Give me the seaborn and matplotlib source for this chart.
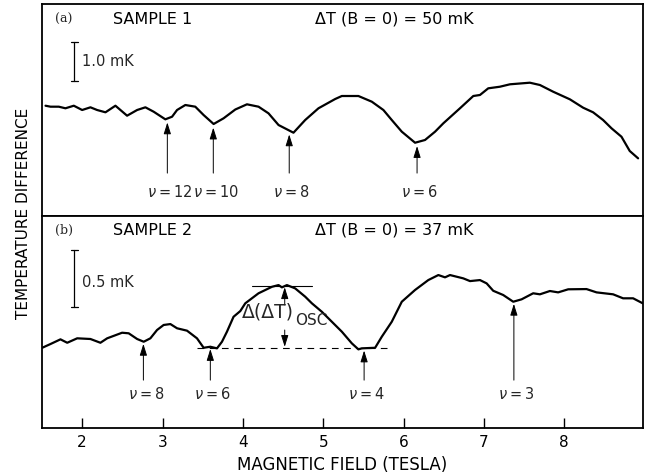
import numpy as np
import pandas as pd
import matplotlib
matplotlib.use("Agg")
import matplotlib.pyplot as plt
import seaborn as sns

# ---------------- data ----------------
# Panel (a): Sample 1, magnetic field (T) and temperature difference (mK, arbitrary offset)
B_a = [1.544, 1.606, 1.709, 1.792, 1.896, 2.000, 2.103, 2.186, 2.290, 2.414,
       2.559, 2.684, 2.787, 2.890, 3.035, 3.119, 3.181, 3.284, 3.408, 3.511,
       3.636, 3.760, 3.906, 4.051, 4.195, 4.319, 4.444, 4.630, 4.776, 4.941,
       5.149, 5.232, 5.438, 5.605, 5.749, 5.853, 5.978, 6.143, 6.267, 6.392,
       6.495, 6.702, 6.868, 6.951, 7.054, 7.199, 7.324, 7.572, 7.697, 7.862,
       8.070, 8.235, 8.359, 8.483, 8.588, 8.712, 8.815, 8.919]
T_a = [2.828, 2.803, 2.803, 2.762, 2.828, 2.718, 2.787, 2.718, 2.659, 2.828,
       2.572, 2.718, 2.787, 2.674, 2.479, 2.546, 2.718, 2.846, 2.803, 2.590,
       2.359, 2.505, 2.731, 2.864, 2.803, 2.633, 2.333, 2.136, 2.462, 2.762,
       3.000, 3.077, 3.077, 2.931, 2.718, 2.462, 2.162, 1.879, 1.949, 2.162,
       2.377, 2.762, 3.077, 3.103, 3.274, 3.315, 3.377, 3.418, 3.359, 3.187,
       2.992, 2.777, 2.659, 2.462, 2.249, 2.033, 1.667, 1.479]

# Panel (b): Sample 2
B_b = [1.503, 1.606, 1.730, 1.814, 1.938, 2.103, 2.227, 2.311, 2.497, 2.579,
       2.684, 2.766, 2.849, 2.932, 3.014, 3.098, 3.181, 3.305, 3.429, 3.512,
       3.595, 3.678, 3.740, 3.802, 3.884, 3.968, 4.030, 4.195, 4.362, 4.444,
       4.486, 4.548, 4.651, 4.776, 4.859, 4.983, 5.108, 5.232, 5.356, 5.438,
       5.480, 5.646, 5.729, 5.853, 5.978, 6.143, 6.308, 6.433, 6.516, 6.578,
       6.743, 6.827, 6.951, 7.034, 7.116, 7.240, 7.365, 7.469, 7.613, 7.697,
       7.821, 7.924, 8.049, 8.277, 8.402, 8.608, 8.732, 8.857, 8.977]
T_b = [0.704, 0.737, 0.778, 0.748, 0.787, 0.781, 0.748, 0.787, 0.836, 0.831,
       0.781, 0.757, 0.787, 0.860, 0.904, 0.912, 0.875, 0.854, 0.787, 0.704,
       0.713, 0.699, 0.757, 0.845, 0.976, 1.026, 1.094, 1.182, 1.239, 1.254,
       1.234, 1.254, 1.225, 1.152, 1.094, 1.020, 0.932, 0.845, 0.743, 0.690,
       0.699, 0.704, 0.801, 0.932, 1.108, 1.211, 1.298, 1.342, 1.322, 1.342,
       1.313, 1.289, 1.298, 1.269, 1.204, 1.167, 1.108, 1.129, 1.182, 1.173,
       1.202, 1.190, 1.217, 1.219, 1.190, 1.173, 1.138, 1.138, 1.094]

# Landau level filling factors and the fields where the minima occur
nu_a = [12, 10, 8, 6]
Bnu_a = [3.060, 3.632, 4.577, 6.168]
nu_b = [8, 6, 4, 3]
Bnu_b = [2.762, 3.595, 5.509, 7.373]

x_ticks = [2, 3, 4, 5, 6, 7, 8]

# ---------------- figure ----------------
sns.set_theme(style="white")
plt.rcParams["font.family"] = ["DejaVu Sans"]
plt.rcParams["mathtext.fontset"] = "dejavusans"

fig = plt.figure(figsize=(6.45, 4.76), dpi=100)
ax1 = fig.add_axes([0.0651, 0.5462, 0.9318, 0.4454])
ax2 = fig.add_axes([0.0651, 0.1008, 0.9318, 0.4454], sharex=ax1)

df_a = pd.DataFrame({"B": B_a, "T": T_a})
df_b = pd.DataFrame({"B": B_b, "T": T_b})
sns.lineplot(data=df_a, x="B", y="T", ax=ax1, color="black", lw=1.6,
             estimator=None, sort=False, legend=False)
sns.lineplot(data=df_b, x="B", y="T", ax=ax2, color="black", lw=1.6,
             estimator=None, sort=False, legend=False)

ax1.set_xlim(1.5, 8.98)
ax1.set_ylim(0, 5.436)
ax2.set_ylim(0, 1.860)

for ax in (ax1, ax2):
    for s in ax.spines.values():
        s.set_visible(True)
        s.set_color("black")
        s.set_linewidth(1.3)
    ax.set_yticks([])
    ax.set_ylabel("")
    ax.set_xlabel("")
    ax.grid(False)

ax1.tick_params(axis="x", bottom=False, labelbottom=False)
ax2.set_xticks(x_ticks)
ax2.set_xticklabels([str(t) for t in x_ticks])
ax2.tick_params(axis="x", direction="in", length=7, width=1, pad=5,
                labelsize=11, colors="black", bottom=True, top=False)

ax2.set_xlabel("MAGNETIC FIELD (TESLA)", fontsize=12, color="black")
ax2.xaxis.set_label_coords(0.5, -0.13)
fig.text(0.037, 0.5525, "TEMPERATURE DIFFERENCE", rotation=90, fontsize=11,
         ha="center", va="center", color="black")

# headers
hdr = dict(fontsize=11.5, color="black", va="center")
ax1.text(0.022, 0.929, "(a)", transform=ax1.transAxes, fontsize=9,
         family="DejaVu Serif", va="center")
ax1.text(0.118, 0.929, "SAMPLE 1", transform=ax1.transAxes, **hdr)
ax1.text(0.454, 0.929, "ΔT (B = 0) = 50 mK", transform=ax1.transAxes, **hdr)
ax2.text(0.022, 0.934, "(b)", transform=ax2.transAxes, fontsize=9,
         family="DejaVu Serif", va="center")
ax2.text(0.118, 0.934, "SAMPLE 2", transform=ax2.transAxes, **hdr)
ax2.text(0.454, 0.934, "ΔT (B = 0) = 37 mK", transform=ax2.transAxes, **hdr)

# scale bars
def scale_bar(ax, x, y0, y1, label, ly):
    ax.plot([x, x], [y0, y1], color="black", lw=0.9)
    ax.plot([x - 0.04, x + 0.04], [y0, y0], color="black", lw=0.9)
    ax.plot([x - 0.04, x + 0.04], [y1, y1], color="black", lw=0.9)
    ax.text(x + 0.1, ly, label, fontsize=10.5, va="center", ha="left")

scale_bar(ax1, 1.904, 3.462, 4.462, "1.0 mK", 3.95)
scale_bar(ax2, 1.904, 1.061, 1.561, "0.5 mK", 1.28)

# nu arrows
arrow_kw = dict(arrowstyle="-|>,head_length=0.7,head_width=0.22",
                color="black", lw=0.7, mutation_scale=10, shrinkA=0, shrinkB=0)

def nu_arrows(ax, Bs, nus, Bdat, Tdat, gap, tail, ly):
    for b, n in zip(Bs, nus):
        tip = np.interp(b, Bdat, Tdat) - gap
        ax.annotate("", xy=(b, tip), xytext=(b, tail), arrowprops=arrow_kw)
        ax.text(b + 0.03, ly, "$\\nu$\u2009=\u2009%d" % n, fontsize=10.5,
                ha="center", va="center")

nu_arrows(ax1, Bnu_a, nu_a, B_a, T_a, 0.10, 1.10, 0.62)
nu_arrows(ax2, Bnu_b, nu_b, B_b, T_b, 0.02, 0.42, 0.30)

# oscillation amplitude marker in panel (b)
ax2.plot([3.423, 5.832], [0.702, 0.702], color="black", lw=0.8,
         linestyle=(0, (6, 5)))
ax2.plot([4.118, 4.864], [1.246, 1.246], color="black", lw=0.8)
dbl_kw = dict(arrowstyle="-|>,head_length=0.7,head_width=0.22",
              color="black", lw=0.7, mutation_scale=10, shrinkA=0, shrinkB=0)
ax2.annotate("", xy=(4.521, 1.235), xytext=(4.521, 1.08), arrowprops=dbl_kw)
ax2.annotate("", xy=(4.521, 0.712), xytext=(4.521, 0.86), arrowprops=dbl_kw)
ax2.text(3.985, 1.018, "Δ(ΔT)", fontsize=13.5, ha="left", va="center")
ax2.text(4.655, 0.947, "OSC", fontsize=11, ha="left", va="center")

fig.savefig("out.png", dpi=100)
